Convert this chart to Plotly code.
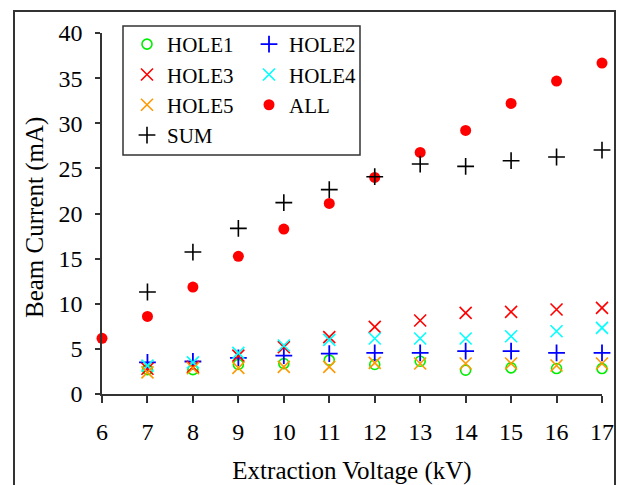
import plotly.graph_objects as go

voltage = [6, 7, 8, 9, 10, 11, 12, 13, 14, 15, 16, 17]
v7 = voltage[1:]

hole1 = [2.7, 2.7, 3.27, 3.37, 3.75, 3.27, 3.63, 2.64, 2.9, 2.82, 2.82]
hole2 = [3.5, 3.6, 4.0, 4.25, 4.48, 4.56, 4.56, 4.74, 4.74, 4.56, 4.56]
hole3 = [2.8, 3.0, 4.25, 5.2, 6.3, 7.44, 8.14, 8.99, 9.1, 9.36, 9.55]
hole4 = [3.15, 3.5, 4.55, 5.37, 6.0, 6.15, 6.15, 6.15, 6.4, 6.95, 7.33]
hole5 = [2.4, 2.85, 2.9, 3.0, 3.0, 3.45, 3.38, 3.38, 3.38, 3.16, 3.38]
all_ = [6.17, 8.6, 11.85, 15.25, 18.28, 21.12, 24.0, 26.77, 29.21, 32.2, 34.67, 36.67]
sum_ = [11.3, 15.73, 18.35, 21.2, 22.64, 24.08, 25.48, 25.22, 25.85, 26.26, 27.03]

x_title = "Extraction Voltage (kV)"
y_title = "Beam Current (mA)"

FONT = "'Liberation Serif', 'Times New Roman', Times, serif"

fig = go.Figure()

def add(x, y, name, symbol, color, size, lw, legend, filled=False):
    marker = dict(symbol=symbol, size=size, color=color)
    if not filled:
        marker["line"] = dict(color=color, width=lw)
    fig.add_trace(go.Scatter(
        x=x, y=y, mode="markers", name=name, marker=marker,
        cliponaxis=False, legend=legend, legendgroup=name,
    ))

add(v7, hole1, "HOLE1", "circle-open", "#00EE00", 10, 1.6, "legend")
add(v7, hole2, "HOLE2", "cross-thin", "#0000FF", 12, 1.8, "legend2")
add(v7, hole3, "HOLE3", "x-thin", "#FF0000", 12, 1.6, "legend")
add(v7, hole4, "HOLE4", "x-thin", "#00FFFF", 12, 1.6, "legend2")
add(v7, hole5, "HOLE5", "x-thin", "#FF9900", 12, 1.6, "legend")
add(voltage, all_, "ALL", "circle", "#FF0000", 11, 0, "legend2", filled=True)
add(v7, sum_, "SUM", "cross-thin", "#000000", 12, 1.6, "legend")

# body margin is removed by post_script, so figure coords = window coords
W, H = 617, 485
L, T = 102, 33
R = W - 602
B = H - 394
pw, ph = W - L - R, H - T - B

def px(xw):
    return (xw - L) / pw

def py(yw):
    return (H - B - yw) / ph

legend_common = dict(
    font=dict(family=FONT, size=21, color="#000000"),
    bgcolor="rgba(0,0,0,0)", borderwidth=0,
    xanchor="left", yanchor="top", orientation="v",
    traceorder="normal", itemsizing="trace",
    xref="container", yref="container",
)

fig.update_layout(
    width=W, height=H,
    margin=dict(l=L, r=R, t=T, b=B, autoexpand=False),
    paper_bgcolor="white", plot_bgcolor="white",
    font=dict(family=FONT, size=24, color="#000000"),
    showlegend=True,
    legend=dict(x=127 / W, y=1 - 24 / H, **legend_common),
    legend2=dict(x=249 / W, y=1 - 24 / H, **legend_common),
    xaxis=dict(
        range=[6, 17], tickmode="array", tickvals=voltage,
        ticks="outside", ticklen=7, tickwidth=1.5, tickcolor="#333333",
        showline=True, linecolor="#333333", linewidth=1.5,
        showgrid=False, zeroline=False, automargin=True,
        tickfont=dict(family=FONT, size=24, color="#000000"),
        ticklabelstandoff=8,
        title=dict(text=x_title, font=dict(family=FONT, size=25), standoff=21),
    ),
    yaxis=dict(
        range=[0, 40], tickmode="array", tickvals=[0, 5, 10, 15, 20, 25, 30, 35, 40],
        ticks="outside", ticklen=5, tickwidth=1.5, tickcolor="#333333",
        showline=True, linecolor="#333333", linewidth=1.5,
        showgrid=False, zeroline=False, automargin=False,
        tickfont=dict(family=FONT, size=24, color="#000000"),
        ticklabelstandoff=8,
    ),
    annotations=[
        dict(text=y_title, xref="paper", yref="paper", x=px(35), y=py(218),
             xanchor="center", yanchor="middle", textangle=-90, showarrow=False,
             font=dict(family=FONT, size=25, color="#000000")),
    ],
    shapes=[
        dict(type="rect", xref="paper", yref="paper",
             x0=px(14), x1=px(615), y0=py(520), y1=py(11),
             line=dict(color="#333333", width=2), fillcolor="rgba(0,0,0,0)", layer="below"),
        dict(type="rect", xref="paper", yref="paper",
             x0=px(123), x1=px(360), y0=py(155), y1=py(26),
             line=dict(color="#333333", width=1.5), fillcolor="rgba(0,0,0,0)", layer="below"),
    ],
)

fig.write_html(
    "out.html",
    config={"displayModeBar": False},
    post_script="document.body.style.margin='0px';document.body.style.overflow='hidden';",
)
